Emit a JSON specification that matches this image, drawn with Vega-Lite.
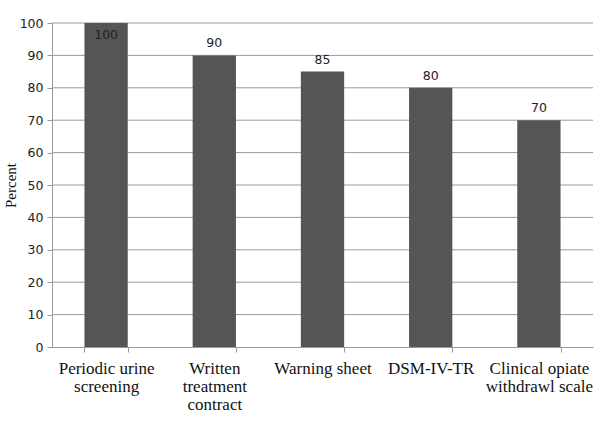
{
  "$schema": "https://vega.github.io/schema/vega-lite/v6.json",
  "autosize": "none",
  "width": 541,
  "height": 324,
  "padding": {"left": 52, "top": 23, "right": 7, "bottom": 83},
  "background": "white",
  "datasets": {
    "bars": [
      {"item": "Periodic urine|screening", "percent": 100},
      {"item": "Written|treatment|contract", "percent": 90},
      {"item": "Warning sheet", "percent": 85},
      {"item": "DSM-IV-TR", "percent": 80},
      {"item": "Clinical opiate|withdrawl scale", "percent": 70}
    ],
    "gridlines": [
      {"percent": 10}, {"percent": 20}, {"percent": 30}, {"percent": 40}, {"percent": 50},
      {"percent": 60}, {"percent": 70}, {"percent": 80}, {"percent": 90}, {"percent": 100}
    ]
  },
  "resolve": {"axis": {"y": "independent"}},
  "layer": [
    {
      "data": {"name": "gridlines"},
      "mark": {"type": "rule", "color": "#9a9a9a", "strokeWidth": 1},
      "encoding": {
        "y": {
          "field": "percent",
          "type": "quantitative",
          "scale": {"domain": [0, 100], "nice": false},
          "axis": null
        }
      }
    },
    {
      "data": {"name": "bars"},
      "encoding": {
        "x": {
          "field": "item",
          "type": "nominal",
          "sort": null,
          "scale": {"paddingInner": 0.6, "paddingOuter": 0.3},
          "axis": {
            "title": null,
            "labelAngle": 0,
            "labelExpr": "split(datum.label, '|')",
            "labelFont": "Liberation Serif",
            "labelFontSize": 17,
            "labelColor": "#111",
            "labelLineHeight": 18,
            "labelPadding": 8,
            "tickBand": "extent",
            "tickColor": "#999",
            "tickSize": 5,
            "domainColor": "#999",
            "grid": false
          }
        },
        "y": {
          "field": "percent",
          "type": "quantitative",
          "scale": {"domain": [0, 100], "nice": false},
          "axis": {
            "title": "Percent",
            "titleFont": "Liberation Serif",
            "titleFontSize": 15,
            "titleFontWeight": "normal",
            "titleColor": "#111",
            "titlePadding": 1,
            "values": [0, 10, 20, 30, 40, 50, 60, 70, 80, 90, 100],
            "grid": false,
            "labelFont": "DejaVu Sans",
            "labelFontSize": 12.5,
            "labelColor": "#222",
            "labelPadding": 4,
            "tickColor": "#999",
            "tickSize": 5,
            "domainColor": "#999"
          }
        }
      },
      "layer": [
        {"mark": {"type": "bar", "color": "#555555"}},
        {
          "transform": [{"filter": "datum.percent < 100"}],
          "mark": {"type": "text", "dy": -12, "font": "DejaVu Sans", "fontSize": 12.5, "color": "#222"},
          "encoding": {"text": {"field": "percent", "type": "quantitative"}}
        },
        {
          "transform": [{"filter": "datum.percent >= 100"}],
          "mark": {"type": "text", "dy": 12, "font": "DejaVu Sans", "fontSize": 12.5, "color": "#222"},
          "encoding": {"text": {"field": "percent", "type": "quantitative"}}
        }
      ]
    }
  ],
  "config": {"view": {"stroke": null}}
}
